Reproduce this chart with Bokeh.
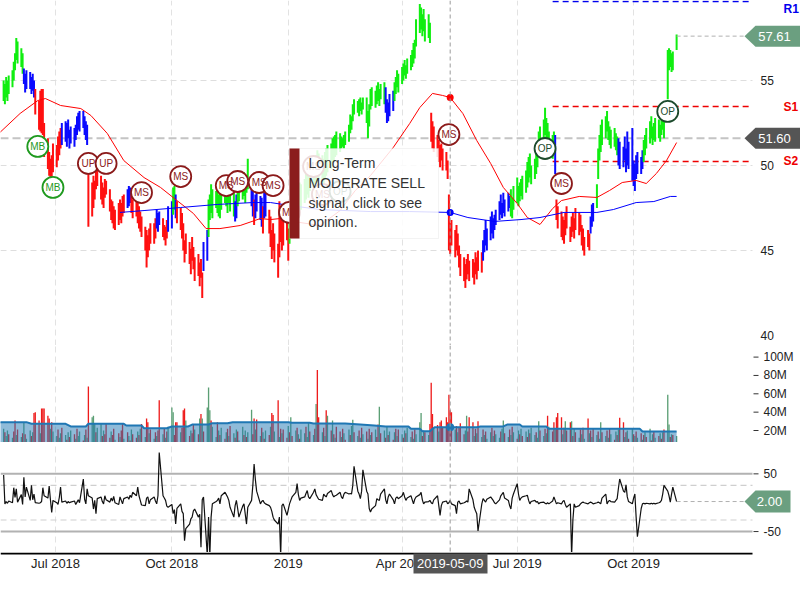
import numpy as np
import pandas as pd
from bokeh.plotting import figure
from bokeh.layouts import column
from bokeh.models import Range1d, FixedTicker, Grid, Span, BoxAnnotation, Label, ColumnDataSource
from bokeh.core.properties import value
from bokeh.embed import file_html
from bokeh.resources import INLINE

FONT = "Liberation Sans"

# ---------------------------------------------------------------- data
first_day = "2018-05-21"

# daily lows / highs, one row per trading week
low_wk = [
    [53.8, 53.6, 54.0, 53.8, 54.2], [54.6, 55.0, 55.6, 56.2, 56.0], [55.8, 55.4, 54.8, 54.3, 54.5],
    [54.5, 54.2, 54.4, 54.0, 53.0], [52.1, 52.0, 51.9, 51.8, 50.5], [49.8, 49.4, 49.3, 49.2, 49.6],
    [49.9, 50.3, 50.6, 51.0, 51.2], [51.4, 51.1, 51.6, 51.0, 51.3], [51.1, 51.5, 51.8, 52.1, 52.0],
    [52.2, 51.8, 51.5, 51.2, 46.4], [47.0, 47.5, 48.0, 48.6, 48.8], [48.0, 47.7, 47.5, 48.1, 48.3],
    [47.3, 46.8, 46.6, 46.3, 46.2], [46.5, 46.8, 46.6, 47.0, 47.2], [47.5, 47.6, 47.8, 47.2, 46.9],
    [47.0, 46.6, 46.3, 46.1, 45.8], [45.0, 44.0, 44.6, 45.0, 45.4], [45.4, 45.7, 46.3, 46.1, 46.5],
    [45.8, 45.6, 45.3, 45.7, 46.1], [46.3, 47.1, 47.4, 46.9, 46.6], [46.2, 45.7, 45.0, 44.3, 44.8],
    [44.2, 43.6, 44.4, 43.9, 43.2], [43.5, 42.9, 43.4, 42.2, 43.8], [44.4, 45.8, 46.8, 47.2, 46.9],
    [47.5, 47.2, 47.0, 46.9, 47.4], [47.8, 47.6, 47.2, 47.8, 47.3], [47.0, 46.7, 46.9, 47.6, 47.9],
    [48.0, 48.2, 47.8, 48.4, 48.6], [47.6, 47.0, 46.5, 46.9, 47.3], [46.8, 46.4, 46.0, 46.9, 47.0],
    [46.0, 45.2, 44.5, 45.0, 44.3], [43.4, 44.6, 45.5, 45.0, 45.3], [45.6, 44.4, 45.4, 46.0, 46.5],
    [46.8, 47.0, 47.3, 47.6, 47.4], [47.8, 48.0, 48.3, 48.1, 48.5], [48.7, 48.9, 49.0, 49.3, 49.2],
    [49.0, 48.7, 49.2, 49.4, 49.6], [49.8, 50.0, 50.2, 50.5, 50.6], [50.8, 51.0, 51.1, 51.0, 51.2],
    [51.4, 51.9, 52.1, 52.6, 53.0], [53.1, 52.9, 53.2, 53.0, 53.3], [52.5, 51.6, 52.3, 53.3, 53.5],
    [53.4, 53.6, 53.8, 53.5, 53.9], [53.6, 53.1, 52.5, 52.6, 52.9], [53.2, 53.8, 54.2, 54.6, 54.3],
    [54.8, 55.0, 55.3, 55.1, 55.4], [55.6, 55.8, 56.0, 56.3, 57.0], [57.8, 58.0, 57.6, 57.9, 57.3],
    [57.5, 57.2, 51.4, 51.0, 50.8], [50.5, 50.2, 49.9, 50.3, 49.7], [49.7, 49.2, 45.0, 44.8, 45.3],
    [44.6, 45.0, 44.7, 44.0, 43.5], [43.2, 42.8, 43.3, 43.6, 43.2], [43.4, 43.0, 43.6, 43.3, 43.8],
    [43.7, 44.4, 44.9, 45.3, 45.0], [45.6, 46.0, 45.7, 46.2, 46.5], [46.8, 47.1, 46.9, 47.2, 47.0],
    [47.3, 47.5, 47.0, 46.9, 47.4], [47.8, 47.6, 47.9, 48.2, 48.0], [48.4, 48.7, 49.0, 49.3, 48.9],
    [49.2, 49.5, 49.9, 50.5, 51.0], [51.4, 51.8, 51.5, 51.2, 50.8], [50.4, 50.8, 49.5, 46.8, 46.3],
    [45.8, 45.6, 45.4, 45.9, 46.3], [45.5, 45.8, 46.1, 45.7, 46.2], [45.9, 46.1, 45.3, 45.0, 44.7],
    [45.2, 45.0, 46.0, 46.4, 46.7], [47.5, 49.2, 50.3, 50.8, 51.2], [51.6, 52.0, 51.5, 51.2, 51.0],
    [51.1, 50.9, 50.6, 50.0, 49.8], [49.9, 50.3, 49.6, 50.0, 49.8], [49.1, 48.8, 48.5, 49.2, 49.5],
    [49.5, 49.8, 50.2, 50.6, 51.0], [51.3, 51.6, 51.2, 51.5, 51.4], [51.6, 51.4, 51.8, 52.1, 51.6],
    [53.9, 55.6, 55.8, 55.5, 55.6], [56.8],
]
high_wk = [
    [55.0, 54.8, 55.2, 55.0, 55.3], [55.6, 56.1, 56.6, 57.5, 57.3], [56.9, 56.6, 55.7, 55.4, 55.6],
    [55.5, 55.2, 55.4, 55.0, 54.5], [53.8, 54.4, 54.5, 54.5, 52.5], [51.6, 50.8, 50.4, 50.6, 51.3],
    [51.2, 51.7, 52.0, 52.2, 52.5], [52.6, 52.5, 52.7, 52.1, 52.3], [52.2, 52.4, 52.9, 53.1, 53.2],
    [53.2, 52.9, 52.6, 52.4, 49.6], [49.0, 49.4, 49.1, 49.8, 50.0], [49.4, 49.0, 48.7, 49.2, 49.1],
    [48.6, 48.0, 47.9, 47.6, 47.4], [47.8, 48.0, 47.8, 48.2, 48.3], [48.6, 48.8, 48.7, 48.3, 48.0],
    [48.2, 47.9, 47.6, 47.3, 47.0], [46.4, 46.2, 45.9, 46.3, 46.6], [46.6, 46.9, 47.4, 47.2, 47.3],
    [46.9, 46.5, 46.4, 46.8, 47.6], [47.9, 48.7, 48.8, 48.3, 47.9], [47.5, 47.2, 46.6, 45.6, 46.0],
    [45.5, 45.1, 45.8, 45.2, 44.6], [44.8, 44.3, 44.5, 43.7, 45.5], [46.2, 48.0, 48.3, 48.9, 48.6],
    [48.5, 48.6, 48.3, 48.4, 48.8], [48.9, 49.0, 48.7, 49.3, 48.9], [48.4, 47.9, 48.3, 49.2, 49.6],
    [49.4, 49.6, 49.0, 49.3, 50.4], [48.7, 48.5, 48.0, 48.3, 48.5], [48.2, 48.1, 47.6, 48.4, 48.6],
    [47.4, 47.0, 46.2, 46.6, 46.0], [45.4, 47.9, 47.2, 46.8, 46.9], [47.2, 46.3, 47.3, 47.6, 48.0],
    [48.2, 48.5, 48.6, 49.0, 48.9], [49.2, 49.5, 49.7, 49.6, 50.0], [50.2, 50.5, 50.6, 50.9, 50.7],
    [50.6, 50.4, 50.8, 51.0, 51.2], [51.3, 51.6, 51.7, 51.8, 52.0], [51.9, 51.7, 51.6, 51.8, 52.0],
    [52.4, 53.0, 52.9, 53.6, 53.9], [53.8, 53.9, 54.0, 53.7, 54.0], [54.0, 53.2, 53.6, 54.5, 54.6],
    [54.4, 54.7, 54.9, 54.5, 54.8], [54.9, 54.6, 53.9, 53.7, 54.2], [54.4, 54.9, 55.2, 55.6, 55.4],
    [55.8, 56.0, 56.2, 55.9, 56.3], [56.5, 56.8, 57.2, 57.4, 58.6], [59.5, 59.3, 58.9, 59.2, 58.6],
    [58.9, 58.4, 53.1, 52.6, 52.3], [51.8, 51.5, 51.2, 51.3, 51.0], [50.8, 50.3, 48.3, 46.6, 46.8],
    [46.2, 46.5, 46.0, 45.3, 44.8], [44.6, 44.2, 44.5, 44.8, 44.4], [44.5, 44.3, 44.9, 44.6, 45.0],
    [44.9, 45.6, 46.2, 46.8, 46.3], [47.0, 47.3, 46.9, 47.1, 47.4], [47.9, 48.3, 47.8, 48.4, 48.0],
    [48.4, 48.2, 48.6, 48.1, 48.8], [49.3, 48.8, 49.0, 49.2, 49.4], [49.7, 50.2, 50.5, 50.7, 50.0],
    [50.4, 50.8, 51.3, 52.0, 52.3], [52.7, 53.4, 52.8, 52.5, 52.0], [51.8, 52.0, 51.8, 48.0, 47.6],
    [47.3, 47.0, 46.8, 47.2, 47.6], [46.4, 47.0, 47.2, 46.9, 47.5], [47.2, 47.1, 46.5, 46.3, 45.8],
    [46.2, 46.0, 47.0, 47.7, 47.8], [48.9, 51.0, 51.8, 52.4, 52.7], [52.9, 53.2, 52.6, 52.3, 52.1],
    [52.2, 51.9, 51.7, 51.6, 51.4], [51.1, 51.7, 51.0, 52.0, 51.4], [52.2, 50.3, 50.1, 50.6, 50.8],
    [50.5, 50.9, 51.5, 51.8, 52.2], [52.6, 52.9, 52.3, 52.5, 52.8], [52.7, 52.4, 52.9, 53.0, 52.6],
    [56.8, 56.9, 56.8, 56.6, 56.7], [57.7],
]
# trend signal of each bar: G = bullish, B = neutral, R = bearish
trend_wk = [
    "GGGGG", "GGGGG", "GGBBB", "BBBBR", "RRRRR", "RRRRR", "RRRRB", "BBBBB", "BBBBB", "BBBBR",
    "RRRRR", "RRRRR", "RRRRR", "RRRRR", "BBBRR", "RRRRR", "RRRRR", "RRBBB", "RRRRB", "BGGBR",
    "RRRRR", "RRRRR", "RRRRB", "BGGGG", "GGGGG", "GGGGG", "GBBGG", "GGGGG", "BBRBB", "BBRBB",
    "RRRRR", "RRRRR", "RRGGG", "GGGGG", "GGGGG", "GGGGG", "GGGGG", "GGGGG", "GGGGG", "GGGGG",
    "GGGGG", "GGGGG", "GGGGG", "GBBBB", "BGGGG", "GGGGG", "GGGGG", "GGGGG", "GGRRR", "RRRRR",
    "RRRRR", "RRRRR", "RRRRR", "RRRRR", "RBBBB", "BBBBB", "BBBBB", "BBGGG", "GGGGG", "GGGGG",
    "GGGGG", "GGGGG", "GGBRR", "RRRRR", "RRRRR", "RRRRR", "RRBBB", "GGGGG", "GGGGG", "GGGBB",
    "BBBBB", "BBBBB", "BBGGG", "GGGGG", "GGGGG", "GGGGG", "G",
]

# daily volume in millions
volume_m = [
    22, 18, 14, 20, 16, 12, 19, 31, 15, 21,
    13, 17, 29, 16, 11, 20, 14, 18, 39, 40,
    31, 17, 44, 44, 44, 36, 33, 22, 29, 19,
    14, 21, 12, 17, 23, 15, 10, 18, 13, 20,
    16, 11, 22, 14, 19, 9, 15, 21, 12, 68,
    34.5, 36, 27, 18, 23, 27, 14, 20, 16, 27,
    12, 19, 15, 22, 10, 17, 13, 20, 27, 11,
    18, 14, 9, 21, 16, 12, 19, 15, 22, 27,
    13, 33, 29, 17, 21, 11, 18, 14, 20, 53,
    16, 22, 12, 19, 24, 45, 40, 15, 29, 29,
    18, 23, 42, 44, 31, 14, 20, 17, 27, 21,
    16, 33, 38, 33, 19, 45, 67, 42, 31, 24,
    13, 29, 20, 15, 23, 11, 18, 22, 14, 25,
    17, 12, 21, 19, 9, 24, 15, 20, 13, 18,
    42.5, 16, 33, 21, 32, 14, 23, 18, 11, 20,
    15, 24, 39, 37, 19, 53, 13, 22, 17, 21,
    12, 25, 18, 34.5, 14, 20, 23, 16, 11, 21,
    17, 24, 13, 29, 19, 15, 22, 49, 86, 34.5,
    18, 23, 14, 42, 36, 20, 31, 16, 12, 24,
    19, 13, 22, 17, 10, 21, 15, 25, 31.6, 18,
    14, 20, 12, 23, 16, 19, 11, 22, 15, 18,
    21, 13, 26.5, 46, 17, 20, 12, 24, 15, 19,
    10, 18, 22, 14, 21, 16, 12, 20, 17, 23,
    13, 19, 11, 21, 16, 29, 39, 14, 20, 18,
    15, 27, 72, 38, 22, 26, 19, 29, 31, 24,
    34.5, 29, 59, 42, 40, 21, 25, 18, 23, 28,
    16, 20, 36, 19, 34.5, 29, 14, 22, 17, 30,
    13, 21, 15, 19, 11, 18, 23, 14, 20, 16,
    12, 19, 22, 31, 17, 13, 21, 15, 24, 18,
    11, 20, 16, 22, 14, 19, 13, 21, 17, 23,
    15, 18, 12, 30, 20, 14, 22, 17, 36, 24,
    19, 29, 21, 34.5, 39, 34.5, 16, 23, 30, 20,
    29, 30, 14, 22, 18, 12, 21, 16, 23, 11,
    33, 17, 20, 13, 22, 15, 19, 11, 29, 18,
    14, 20, 12, 22, 16, 10, 19, 15, 21, 34,
    29, 13, 18, 20, 11, 22, 16, 14, 19, 12,
    17, 10, 15, 18, 13, 22, 9, 16, 19, 12,
    14, 17, 11, 18, 21, 59, 26.5, 13, 16, 15,
    14,
]
# up (G) / down (R) day of each volume bar
volume_dir = [
    "GRGGRGRRGR", "GRGRGGRGRR", "RGRRRRRGRG", "GRGGRGRGRG", "RGRGGRGRGR",
    "GGGRGGRGRR", "RGRRGRGRRG", "RGRGRRGRGR", "GRRGRGRGRR", "GRGRGGGRRR",
    "GRRRGRGRRG", "RGRGRGGGRG", "GRGRGRGRGR", "GRGRGGRGRG", "GRRGRGRGRG",
    "RGRRGRGRGR", "RGRGRGRGRG", "GRGGRGRGRR", "GRGRGRGRGR", "RGRGRGRGGR",
    "GRGRGRGRGR", "GRRGRGRGRG", "RGRGRGRGRG", "GRGRGGGRGR", "GRRRGRGRRR",
    "RRRRRGRGRR", "RGGRRRGRGR", "GRGRGGRGRG", "GRGGRGRGRG", "RGRGRGRGRG",
    "GRGGRGRGRG", "RRGRRRGRGR", "RGRGRGRGRG", "RGRGRGRGGR", "GRGRGRGRGR",
    "RGRGRGRGRG", "RGRGRGRGRG", "RGRGRGGRGR", "G",
]

# momentum oscillator (one value per trading day)
oscillator = [
    48, -2, 2, -1, 3, 0, 26, 9, 24, 1, 14, -3, 44, 10, 27, 4, 30, 5, 15, 0,
    -1, 0, 2, 26, 12, 8, 29, 5, -17, 4, 0, -3, 9, 27, 1, 3, -1, 2, 0, 1,
    3, -3, 1, 5, 0, 41, 6, -2, 24, 12, 8, -11, 4, -19, 7, 10, 2, -2, 12, 5,
    1, 8, 3, 11, 0, -3, 10, 4, -2, 7, 10, 6, 13, 9, 18, 12, 27, 12, 4, -4,
    -5, 8, 10, -2, 5, 10, 3, -2, 12, 87, 12, 8, 4, -6, -8, -3, -19, -12, -37, -10,
    -2, -15, -19, -66, -45, -37, -28, -25, -14, -11, -25, -20, -77, 5, 10, -92, -25, -92, -25, -2,
    2, 4, 8, -2, 12, 18, 14, 10, 4, -8, -25, -5, 4, -10, -25, -6, -2, -20, -37, -8,
    4, 30, 67, 40, 20, -2, 2, 4, 0, -2, -5, -8, -15, -25, -30, -37, -25, -92, -5, -2,
    -22, -12, -2, 4, 10, 18, 33, 14, 4, 8, 10, 16, 21, 10, 7, 18, 24, 14, 10, 6,
    4, 15, 12, 10, 16, 21, 14, 10, 12, 13, 18, 10, 7, 15, 18, 15, 16, 15, 30, 63,
    20, 15, 7, 20, 57, 20, 15, -10, -16, -11, -5, 7, 5, 4, 15, 24, 5, -2, 10, 15,
    5, -2, 8, 10, 7, 12, 18, 10, 4, 8, 12, 5, -2, 6, 10, 14, 18, 5, -2, 1,
    2, 4, 0, -2, 5, 12, -5, -22, -5, 1, 3, -2, 0, 4, -2, -5, -19, 1, 3, -2,
    0, 1, 3, 1, 24, 5, -8, -14, -19, -49, -2, 7, 4, 1, 6, 10, 7, 4, 0, -2,
    5, 12, 15, 18, 8, 4, -5, -11, 8, 15, 33, 15, 4, 8, 10, 12, 13, 4, -2, 2,
    4, 1, 2, -2, 0, 1, -1, -2, 0, -2, 3, 10, 4, -2, 0, -2, 2, 4, -3, -8,
    -2, -92, -30, -2, -8, -5, -2, 0, 1, 0, -2, 0, 1, 0, -2, 0, 1, 0, -2, 8,
    15, -2, 2, 4, 2, 1, 4, 7, 25, 41, 20, 18, 31, 10, 2, -2, 8, 15, -25, -59,
    -10, -2, -1, -2, -1, -2, -1, -2, -1, -2, 0, 1, 4, 15, 30, 20, 12, 1, 15, 27, 2,
]

red_ma_dates = ["2018-05-18", "2018-06-03", "2018-06-17", "2018-06-23", "2018-07-05", "2018-07-21",
                "2018-07-29", "2018-08-11", "2018-08-24", "2018-09-09", "2018-09-22", "2018-10-05",
                "2018-10-18", "2018-10-28", "2018-11-08", "2018-11-24", "2018-12-10", "2018-12-18",
                "2019-01-02", "2019-01-10", "2019-01-26", "2019-02-11", "2019-02-23", "2019-03-07",
                "2019-03-25", "2019-04-07", "2019-04-15", "2019-04-25", "2019-05-03", "2019-05-09",
                "2019-05-19", "2019-05-30", "2019-06-10", "2019-06-20", "2019-07-01", "2019-07-09",
                "2019-07-19", "2019-07-29", "2019-08-05", "2019-08-19", "2019-09-02", "2019-09-12",
                "2019-09-22", "2019-10-03", "2019-10-11", "2019-10-19", "2019-10-27", "2019-11-04"]
red_ma_vals = [51.94, 53.06, 53.82, 53.94, 53.53, 53.35, 52.94, 51.88, 50.29, 49.29, 48.71, 47.94,
               47.18, 46.29, 46.29, 46.47, 46.88, 46.82, 46.94, 46.65, 46.47, 47.35, 48.53, 49.41,
               51.06, 52.47, 53.41, 54.24, 54.12, 54.0, 53.06, 51.47, 50.12, 48.71, 47.76, 46.94,
               46.53, 47.47, 47.94, 48.18, 48.12, 48.53, 49.0, 49.12, 48.94, 49.53, 50.29, 51.35]
blue_ma_dates = ["2018-08-21", "2018-09-09", "2018-10-08", "2018-11-06", "2018-12-04", "2018-12-18",
                 "2019-01-02", "2019-01-26", "2019-03-07", "2019-04-07", "2019-05-09", "2019-05-23",
                 "2019-06-13", "2019-07-04", "2019-07-19", "2019-08-07", "2019-09-02", "2019-09-15",
                 "2019-10-03", "2019-10-17", "2019-10-30", "2019-11-04"]
blue_ma_vals = [47.24, 47.35, 47.53, 47.71, 47.82, 47.82, 47.65, 47.41, 47.29, 47.29, 47.24, 46.94,
                46.71, 46.82, 46.94, 47.24, 47.24, 47.41, 47.82, 47.88, 48.18, 48.18]
vol_ma_dates = ["2018-05-18", "2018-06-08", "2018-06-12", "2018-07-09", "2018-07-13", "2018-07-25",
                "2018-07-27", "2018-08-24", "2018-08-26", "2018-09-07", "2018-09-09", "2018-09-27",
                "2018-10-01", "2018-10-14", "2018-10-17", "2018-10-30", "2018-11-02", "2018-11-14",
                "2018-11-18", "2019-01-01", "2019-01-04", "2019-01-18", "2019-01-21", "2019-02-15",
                "2019-02-27", "2019-03-10", "2019-03-19", "2019-04-06", "2019-04-08", "2019-04-15",
                "2019-04-17", "2019-04-23", "2019-04-25", "2019-04-27", "2019-05-30", "2019-06-02",
                "2019-06-20", "2019-06-23", "2019-07-03", "2019-07-05", "2019-07-24", "2019-07-26",
                "2019-10-06", "2019-10-08", "2019-11-04"]
vol_ma_vals = [29.1, 29.1, 27.3, 27.3, 24.4, 24.4, 27.3, 27.3, 25.4, 25.4, 22.5, 22.5, 24.4, 24.4,
               26.5, 26.5, 28.0, 28.0, 29.1, 29.1, 28.4, 28.4, 27.6, 27.6, 26.5, 25.4, 24.4, 24.4,
               21.8, 21.8, 19.3, 19.3, 21.8, 23.6, 23.6, 24.4, 24.4, 26.5, 26.5, 24.4, 24.4, 21.8,
               21.8, 18.9, 18.9]

sig_dates = ["2018-06-17", "2018-06-29", "2018-07-27", "2018-08-10", "2018-09-07", "2018-10-08",
             "2018-11-13", "2018-11-22", "2018-12-09", "2018-12-20", "2019-01-02", "2019-01-21",
             "2019-01-28", "2019-02-11", "2019-05-08", "2019-07-23", "2019-08-05", "2019-10-28"]
sig_prices = [51.12, 48.71, 50.12, 50.12, 48.41, 49.35, 48.82, 49.06, 49.0, 48.82, 47.24, 49.94,
              48.3, 48.47, 51.82, 51.0, 48.94, 53.18]
sig_texts = ["MB", "MB", "UP", "UP", "MS", "MS", "MS", "MS", "MS", "MS", "MS", "MS", "MS", "OP",
             "MS", "OP", "MS", "OP"]

level_names = ["R1", "S1", "S2"]
level_values = [59.65, 53.47, 50.24]
level_start = "2019-07-29"

last_close = 57.61
cross_date = "2019-05-09"
cross_price = 51.60
last_osc = 2.00

tick_dates = ["2018-07-01", "2018-10-01", "2019-01-01", "2019-04-01", "2019-07-01", "2019-10-01"]
tick_labels = ["Jul 2018", "Oct 2018", "2019", "Apr 2019", "Jul 2019", "Oct 2019"]
price_ticks = [55, 50, 45, 40]
price_grid = [55, 50, 45]
vol_ticks = [100, 80, 60, 40, 20]
osc_ticks = [50, -50]
osc_bands = [30, -30]
tooltip_lines = ["Long-Term", "MODERATE SELL", "signal, click to see", "opinion."]

# ---------------------------------------------------------------- series
low = [v for w in low_wk for v in w]
high = [v for w in high_wk for v in w]
trend = "".join(trend_wk)
vdir = "".join(volume_dir)
n = min(len(low), len(high), len(trend), len(volume_m), len(vdir), len(oscillator))
dates = pd.bdate_range(first_day, periods=n)


def ms(d):
    return pd.Timestamp(d).value / 1e6


xs = [ms(d) for d in dates]

TREND_COL = {"G": "#10ee10", "B": "#0a0aff", "R": "#ff1010"}
VOL_COL = {"G": "#5b9f74", "R": "#ee1c1c"}

# ---------------------------------------------------------------- layout helpers
JUL1 = ms("2018-07-01")
DAY = 86400000.0


def xd(px):
    return JUL1 + (px - 55) / 1.265 * DAY


def yp(py):
    return 59.706 - py / 17.0


def yv(py):
    return 20 + (430 - py) / 0.9175


def yo(py):
    return (502.2 - py) / 0.577


def ya(py):
    return 578.0 - py


W = 800
x_range = Range1d(xd(0), xd(800))
tick_ms = [ms(d) for d in tick_dates]
CROSS = ms(cross_date)


def make_fig(height, y_range, decor=True):
    p = figure(width=W, height=height, x_range=x_range, y_range=y_range,
               x_axis_type="datetime", x_axis_location=None,
               y_axis_location=None, toolbar_location=None, output_backend="svg",
               min_border=0)
    p.outline_line_color = None
    p.background_fill_color = "white"
    p.border_fill_color = "white"
    p.center = [c for c in p.center if not isinstance(c, Grid)]
    if decor:
        p.add_layout(Grid(dimension=0, ticker=FixedTicker(ticks=tick_ms), grid_line_color="#e2e2e2",
                          grid_line_dash="6 4", grid_line_width=1))
        p.add_layout(Span(location=CROSS, dimension="height", line_color="#9a9a9a",
                          line_dash="4 3", line_width=1))
    return p


def txt(p, x, y, t, size="12px", color="#222222", align="left", bold=False, baseline="middle"):
    p.text(x=x, y=y, text=t, text_font=value(FONT), text_font_size=size, text_color=color,
           text_align=align, text_baseline=baseline,
           text_font_style=("bold" if bold else "normal"))


def arrow_box(p, yc, half, right_px, color, label, text_px):
    xs_ = [xd(744), xd(755), xd(right_px), xd(right_px), xd(755)]
    ys_ = [yc, yc + half, yc + half, yc - half, yc - half]
    p.patch(x=xs_, y=ys_, fill_color=color, line_color=None)
    txt(p, [xd(text_px)], [yc], [label], size="13px", color="white", align="center")


# ---------------------------------------------------------------- price panel
pp = make_fig(345, Range1d(yp(345), yp(0)))
pp.segment(x0=[xd(0)] * len(price_grid), y0=price_grid, x1=[xd(752)] * len(price_grid),
           y1=price_grid, line_color="#dedede", line_dash="6 4", line_width=1)
pp.segment(x0=[xd(0)], y0=[cross_price], x1=[xd(744)], y1=[cross_price],
           line_color="#c4c4c4", line_dash="8 4", line_width=2)
lvl_col = ["#0000ee", "#ee0000", "#ee0000"]
pp.segment(x0=[ms(level_start)] * 3, y0=level_values, x1=[xd(752)] * 3, y1=level_values,
           line_color=lvl_col, line_dash="6 4", line_width=1.5)

bsrc = ColumnDataSource(dict(x=xs, lo=low[:n], hi=high[:n], c=[TREND_COL[k] for k in trend[:n]]))
pp.segment(x0="x", y0="lo", x1="x", y1="hi", line_color="c", line_width=2, source=bsrc)

pp.line([ms(d) for d in red_ma_dates], red_ma_vals, line_color="#ff0000", line_width=1)
pp.line([ms(d) for d in blue_ma_dates], blue_ma_vals, line_color="#0000ff", line_width=1)

pp.segment(x0=[xs[-1]], y0=[last_close], x1=[xd(744)], y1=[last_close],
           line_color="#b0b0b0", line_dash="4 3", line_width=1)

kind_col = {"MB": "#1f9a1f", "UP": "#8b1a1a", "MS": "#8b1a1a", "OP": "#1c4a2c"}
sc = [kind_col[t] for t in sig_texts]
pp.scatter(x=[ms(d) for d in sig_dates], y=sig_prices, marker="circle", size=21,
           fill_color="white", line_color=sc, line_width=1.8)
txt(pp, [ms(d) for d in sig_dates], sig_prices, sig_texts, size="10px", color=sc, align="center")

red_at = float(np.interp(CROSS, [ms(d) for d in red_ma_dates], red_ma_vals))
blue_at = float(np.interp(CROSS, [ms(d) for d in blue_ma_dates], blue_ma_vals))
pp.scatter(x=[CROSS], y=[red_at], size=7, fill_color="#ff0000", line_color=None)
pp.scatter(x=[CROSS], y=[blue_at], size=7, fill_color="#0000ff", line_color=None)

txt(pp, [xd(760)] * len(price_ticks), price_ticks, [str(t) for t in price_ticks])
# level labels (the top one is kept fully inside the panel)
txt(pp, [xd(783)], [yp(1)], level_names[:1], size="12px", color=lvl_col[:1], bold=True,
    baseline="top")
txt(pp, [xd(783)] * 2, level_values[1:], level_names[1:], size="12px", color=lvl_col[1:], bold=True)
arrow_box(pp, last_close, 10.5 / 17, 800, "#6b9f80", f"{last_close:.2f}", 774)
arrow_box(pp, cross_price, 10.5 / 17, 800, "#555555", f"{cross_price:.2f}", 774)

pp.add_layout(BoxAnnotation(left=xd(289), right=xd(438), top=yp(148), bottom=yp(238),
                            fill_color="white", fill_alpha=0.85, line_color="#d8d8d8",
                            line_width=1))
pp.add_layout(BoxAnnotation(left=xd(289), right=xd(299), top=yp(148), bottom=yp(238),
                            fill_color="#8b1c1c", fill_alpha=1.0, line_color=None))
for i, line in enumerate(tooltip_lines):
    pp.add_layout(Label(x=xd(308), y=yp(162.5 + 19.8 * i), text=line, text_font=FONT,
                        text_font_size="14px", text_color="#333333", text_baseline="middle"))

# ---------------------------------------------------------------- volume panel
pv = make_fig(97, Range1d(yv(442), yv(345)))
vsrc = ColumnDataSource(dict(x=xs, top=volume_m[:n], c=[VOL_COL[k] for k in vdir[:n]]))
pv.vbar(x="x", top="top", bottom=0, width=DAY * 1.05, fill_color="c", line_color=None, source=vsrc)
vmx = [ms(d) for d in vol_ma_dates]
pv.varea(x=vmx, y1=[0] * len(vmx), y2=vol_ma_vals, fill_color="#1f77b4", fill_alpha=0.5)
pv.line(vmx, vol_ma_vals, line_color="#1f77b4", line_width=2)
vol_at = float(np.interp(CROSS, vmx, vol_ma_vals))
pv.scatter(x=[CROSS], y=[vol_at], size=8, fill_color="#1f77b4", line_color=None)
pv.segment(x0=[xd(753)] * len(vol_ticks), y0=vol_ticks, x1=[xd(758)] * len(vol_ticks),
           y1=vol_ticks, line_color="#333333", line_width=1)
txt(pv, [xd(763)] * len(vol_ticks), vol_ticks, [f"{t}M" for t in vol_ticks])

# ---------------------------------------------------------------- oscillator panel
po = make_fig(110, Range1d(yo(552), yo(442)))
po.segment(x0=[xd(0)] * 2, y0=osc_bands, x1=[xd(752)] * 2, y1=osc_bands,
           line_color="#cfcfcf", line_dash="6 4", line_width=1.2)
po.segment(x0=[xd(0)] * 2, y0=osc_ticks, x1=[xd(752)] * 2, y1=osc_ticks,
           line_color="#b2b2b2", line_width=2)
po.line(xs, oscillator[:n], line_color="#111111", line_width=1.2)
po.segment(x0=[xs[-1]], y0=[last_osc], x1=[xd(744)], y1=[last_osc],
           line_color="#b0b0b0", line_dash="4 3", line_width=1)
po.segment(x0=[xd(753)] * 2, y0=osc_ticks, x1=[xd(758)] * 2, y1=osc_ticks,
           line_color="#333333", line_width=1)
txt(po, [xd(763)] * 2, osc_ticks, [str(t) for t in osc_ticks])
arrow_box(po, last_osc, 11 / 0.577, 790, "#6b9f80", f"{last_osc:.2f}", 769)

# ---------------------------------------------------------------- date axis strip
pa = make_fig(26, Range1d(ya(578), ya(552)), decor=False)
pa.segment(x0=[xd(0)], y0=[ya(553)], x1=[xd(752)], y1=[ya(553)], line_color="black",
           line_width=2)
txt(pa, tick_ms, [ya(563)] * len(tick_ms), tick_labels, size="13px", align="center")
pa.quad(left=[xd(413)], right=[xd(487)], top=[ya(553)], bottom=[ya(573)],
        fill_color="#555555", line_color=None)
txt(pa, [CROSS], [ya(563)], [cross_date], size="13px", color="white", align="center")

layout = column(pp, pv, po, pa, spacing=0)
open("out.html", "w").write(file_html(layout, INLINE))
